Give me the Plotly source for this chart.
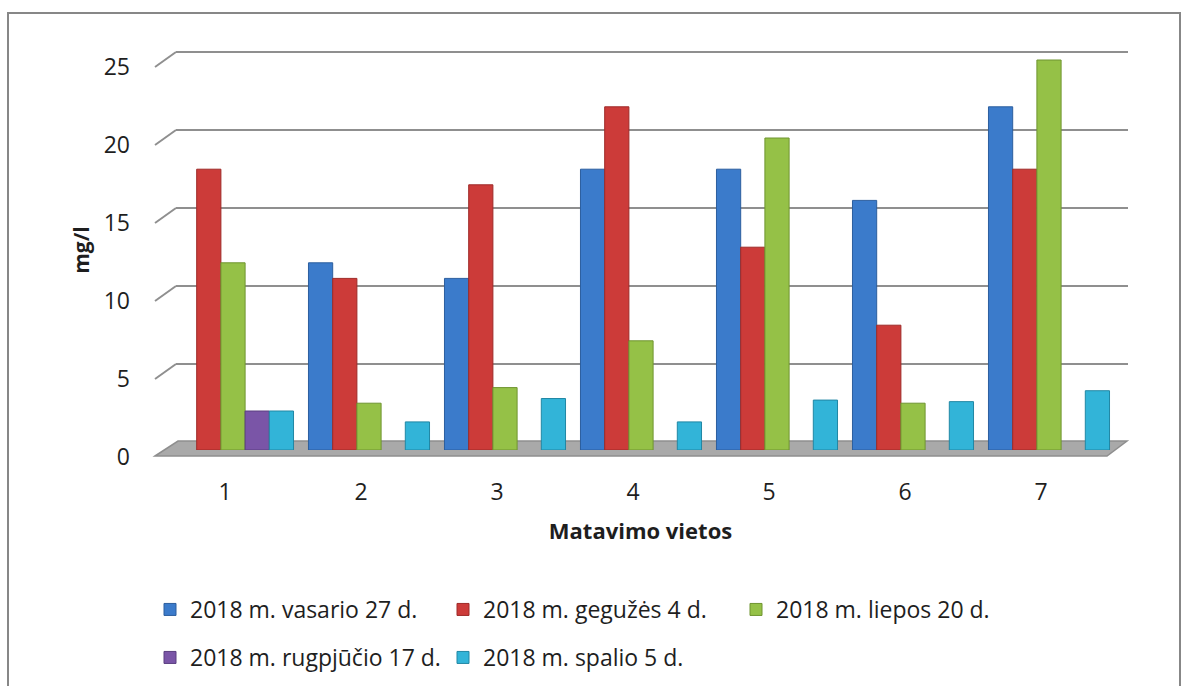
import plotly.graph_objects as go

categories = ["1", "2", "3", "4", "5", "6", "7"]
series_names = [
    "2018 m. vasario 27 d.",
    "2018 m. gegužės 4 d.",
    "2018 m. liepos 20 d.",
    "2018 m. rugpjūčio 17 d.",
    "2018 m. spalio 5 d.",
]
vasario = [None, 12, 11, 18, 18, 16, 22]
geguzes = [18, 11, 17, 22, 13, 8, 18]
liepos = [12, 3, 4, 7, 20, 3, 25]
rugpjucio = [2.5, None, None, None, None, None, None]
spalio = [2.5, 1.8, 3.3, 1.8, 3.2, 3.1, 3.8]
y_ticks = [0, 5, 10, 15, 20, 25]

series_values = [vasario, geguzes, liepos, rugpjucio, spalio]
colors = ["#3B7BCB", "#CC3B39", "#95C147", "#7A55A7", "#32B4D8"]
edge_colors = ["#2C5E9E", "#9E2A28", "#6F9430", "#5A3E80", "#2187A4"]

W, H = 1181, 686
L, R, T, B = 153, 1128, 50, 450      # plot area in pixels
PX_PER_UNIT = 15.6
CAT_PX = 136
first_center = 233

def px_x(p):
    return (p - L) / (R - L)

def px_y(p):
    return (B - p) / (B - T)

y_top = (B - T) / PX_PER_UNIT
back_off = 8 / PX_PER_UNIT

fig = go.Figure()
for i, (name, vals, col, ec) in enumerate(zip(series_names, series_values, colors, edge_colors)):
    fig.add_trace(go.Bar(
        x=categories, y=vals, name=name,
        marker=dict(color=col, line=dict(width=1, color=ec)),
        legend="legend" if i < 3 else "legend2",
    ))

shapes = []
# floor
floor_pts = [(155, 456), (178, 441), (1127, 441), (1107, 456)]
path = "M " + " L ".join(f"{px_x(a):.5f},{px_y(b):.5f}" for a, b in floor_pts) + " Z"
shapes.append(dict(type="path", xref="paper", yref="paper", path=path,
                   fillcolor="#A9A9A9", line=dict(color="#8E8E8E", width=1.5), layer="below"))
# gridlines on back wall plus side-wall stubs
for v in y_ticks[1:]:
    yb = v + back_off
    shapes.append(dict(type="line", xref="paper", yref="y", x0=px_x(176), x1=1.0,
                       y0=yb, y1=yb, line=dict(color="#8F8F8F", width=2), layer="below"))
    shapes.append(dict(type="line", xref="paper", yref="y", x0=px_x(155), x1=px_x(176),
                       y0=yb - 15 / PX_PER_UNIT, y1=yb, line=dict(color="#8F8F8F", width=2),
                       layer="below"))
# outer border
shapes.append(dict(type="rect", xref="paper", yref="paper",
                   x0=px_x(8), x1=px_x(1180), y0=px_y(700), y1=px_y(13),
                   line=dict(color="#878787", width=2), fillcolor="rgba(0,0,0,0)"))

x0 = -(first_center - L) / CAT_PX
x1 = x0 + (R - L) / CAT_PX

font_family = "Open Sans, Lato, sans-serif"
fig.update_layout(
    width=W, height=H,
    margin=dict(l=L, r=W - R, t=T, b=H - B, autoexpand=False),
    paper_bgcolor="white", plot_bgcolor="rgba(0,0,0,0)",
    barmode="group", bargap=0.11, bargroupgap=0.0,
    font=dict(family=font_family, size=22, color="#1e1e1e"),
    shapes=shapes,
    xaxis=dict(
        range=[x0, x1], showgrid=False, zeroline=False, showline=False, ticks="",
        tickfont=dict(size=23), ticklabelstandoff=26, ticklabelshift=-8,
        title=dict(text="<b>Matavimo vietos</b>", font=dict(size=22), standoff=17),
    ),
    yaxis=dict(
        range=[0, y_top], tickvals=y_ticks, showgrid=False, zeroline=False,
        showline=False, ticks="", tickfont=dict(size=23),
        ticklabelstandoff=22, ticklabelshift=7,
        title=dict(text="<b>mg/l</b>", font=dict(size=21), standoff=8),
    ),
    legend=dict(orientation="h", xref="container", yref="container",
                x=150 / W, y=1 - 588 / H, xanchor="left", yanchor="top",
                entrywidth=248, entrywidthmode="pixels",
                font=dict(size=23), bgcolor="rgba(0,0,0,0)"),
    legend2=dict(orientation="h", xref="container", yref="container",
                 x=150 / W, y=1 - 636 / H, xanchor="left", yanchor="top",
                 entrywidth=248, entrywidthmode="pixels",
                 font=dict(size=23), bgcolor="rgba(0,0,0,0)"),
)

fig.write_html(
    "out.html",
    config={"displayModeBar": False},
    post_script="document.body.style.margin='0px';document.body.style.overflow='hidden';",
)
